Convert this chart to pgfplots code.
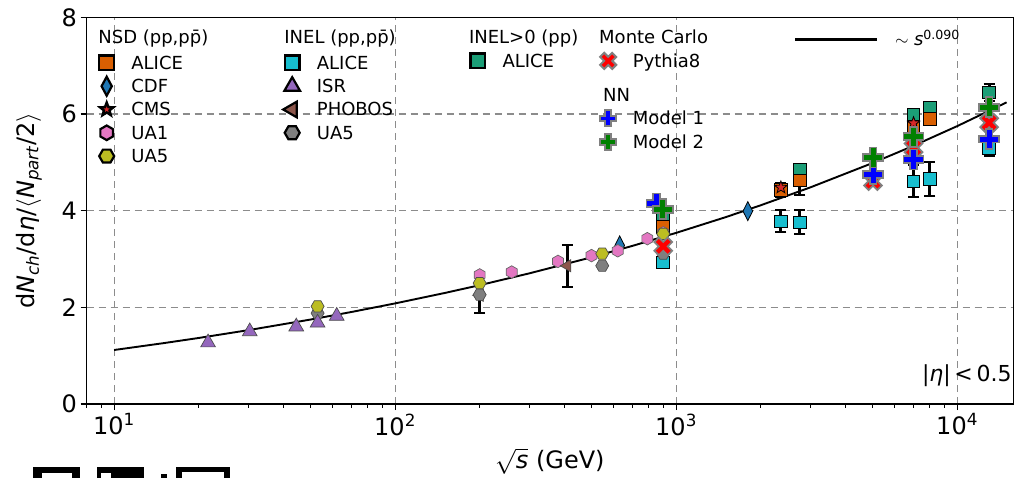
\documentclass[border=0pt]{standalone}
\usepackage{fontspec}
\setmainfont{DejaVu Sans}
\usepackage{pgfplots}
\pgfplotsset{compat=1.18}

\definecolor{cNSD}{HTML}{D95F02}
\definecolor{cINELg}{HTML}{1B9E77}
\definecolor{cINEL}{HTML}{17BECF}
\definecolor{cCDF}{HTML}{1F77B4}
\definecolor{cCMS}{HTML}{D62728}
\definecolor{cUAone}{HTML}{E377C2}
\definecolor{cUAfiveN}{HTML}{BCBD22}
\definecolor{cISR}{HTML}{9467BD}
\definecolor{cPHO}{HTML}{8C564B}
\definecolor{cUAfiveI}{HTML}{7F7F7F}
\definecolor{cEdge}{HTML}{808080}
\definecolor{cGrid}{HTML}{8C8C8C}
\definecolor{cMone}{HTML}{0000FF}
\definecolor{cMtwo}{HTML}{008000}
\definecolor{cPy}{HTML}{FF0000}

\pgfdeclareplotmark{hexv*}{%
  \pgfpathmoveto{\pgfpointpolar{90}{\pgfplotmarksize}}%
  \pgfpathlineto{\pgfpointpolar{150}{\pgfplotmarksize}}%
  \pgfpathlineto{\pgfpointpolar{210}{\pgfplotmarksize}}%
  \pgfpathlineto{\pgfpointpolar{270}{\pgfplotmarksize}}%
  \pgfpathlineto{\pgfpointpolar{330}{\pgfplotmarksize}}%
  \pgfpathlineto{\pgfpointpolar{30}{\pgfplotmarksize}}%
  \pgfpathclose\pgfusepathqfillstroke}
\pgfdeclareplotmark{hexh*}{%
  \pgfpathmoveto{\pgfpointpolar{0}{\pgfplotmarksize}}%
  \pgfpathlineto{\pgfpointpolar{60}{\pgfplotmarksize}}%
  \pgfpathlineto{\pgfpointpolar{120}{\pgfplotmarksize}}%
  \pgfpathlineto{\pgfpointpolar{180}{\pgfplotmarksize}}%
  \pgfpathlineto{\pgfpointpolar{240}{\pgfplotmarksize}}%
  \pgfpathlineto{\pgfpointpolar{300}{\pgfplotmarksize}}%
  \pgfpathclose\pgfusepathqfillstroke}
\pgfdeclareplotmark{star5*}{%
  \pgfpathmoveto{\pgfpointpolar{90}{\pgfplotmarksize}}%
  \pgfpathlineto{\pgfpointpolar{126}{0.42\pgfplotmarksize}}%
  \pgfpathlineto{\pgfpointpolar{162}{\pgfplotmarksize}}%
  \pgfpathlineto{\pgfpointpolar{198}{0.42\pgfplotmarksize}}%
  \pgfpathlineto{\pgfpointpolar{234}{\pgfplotmarksize}}%
  \pgfpathlineto{\pgfpointpolar{270}{0.42\pgfplotmarksize}}%
  \pgfpathlineto{\pgfpointpolar{306}{\pgfplotmarksize}}%
  \pgfpathlineto{\pgfpointpolar{342}{0.42\pgfplotmarksize}}%
  \pgfpathlineto{\pgfpointpolar{18}{\pgfplotmarksize}}%
  \pgfpathlineto{\pgfpointpolar{54}{0.42\pgfplotmarksize}}%
  \pgfpathclose\pgfusepathqfillstroke}
\pgfdeclareplotmark{fatplus}{%
  \pgfpathmoveto{\pgfqpoint{-.34\pgfplotmarksize}{\pgfplotmarksize}}%
  \pgfpathlineto{\pgfqpoint{.34\pgfplotmarksize}{\pgfplotmarksize}}%
  \pgfpathlineto{\pgfqpoint{.34\pgfplotmarksize}{.34\pgfplotmarksize}}%
  \pgfpathlineto{\pgfqpoint{\pgfplotmarksize}{.34\pgfplotmarksize}}%
  \pgfpathlineto{\pgfqpoint{\pgfplotmarksize}{-.34\pgfplotmarksize}}%
  \pgfpathlineto{\pgfqpoint{.34\pgfplotmarksize}{-.34\pgfplotmarksize}}%
  \pgfpathlineto{\pgfqpoint{.34\pgfplotmarksize}{-\pgfplotmarksize}}%
  \pgfpathlineto{\pgfqpoint{-.34\pgfplotmarksize}{-\pgfplotmarksize}}%
  \pgfpathlineto{\pgfqpoint{-.34\pgfplotmarksize}{-.34\pgfplotmarksize}}%
  \pgfpathlineto{\pgfqpoint{-\pgfplotmarksize}{-.34\pgfplotmarksize}}%
  \pgfpathlineto{\pgfqpoint{-\pgfplotmarksize}{.34\pgfplotmarksize}}%
  \pgfpathlineto{\pgfqpoint{-.34\pgfplotmarksize}{.34\pgfplotmarksize}}%
  \pgfpathclose\pgfusepathqfillstroke}
\pgfdeclareplotmark{fatx}{%
  \pgfpathmoveto{\pgfqpoint{-.9475\pgfplotmarksize}{.4667\pgfplotmarksize}}%
  \pgfpathlineto{\pgfqpoint{-.4667\pgfplotmarksize}{.9475\pgfplotmarksize}}%
  \pgfpathlineto{\pgfqpoint{0pt}{.4808\pgfplotmarksize}}%
  \pgfpathlineto{\pgfqpoint{.4667\pgfplotmarksize}{.9475\pgfplotmarksize}}%
  \pgfpathlineto{\pgfqpoint{.9475\pgfplotmarksize}{.4667\pgfplotmarksize}}%
  \pgfpathlineto{\pgfqpoint{.4808\pgfplotmarksize}{0pt}}%
  \pgfpathlineto{\pgfqpoint{.9475\pgfplotmarksize}{-.4667\pgfplotmarksize}}%
  \pgfpathlineto{\pgfqpoint{.4667\pgfplotmarksize}{-.9475\pgfplotmarksize}}%
  \pgfpathlineto{\pgfqpoint{0pt}{-.4808\pgfplotmarksize}}%
  \pgfpathlineto{\pgfqpoint{-.4667\pgfplotmarksize}{-.9475\pgfplotmarksize}}%
  \pgfpathlineto{\pgfqpoint{-.9475\pgfplotmarksize}{-.4667\pgfplotmarksize}}%
  \pgfpathlineto{\pgfqpoint{-.4808\pgfplotmarksize}{0pt}}%
  \pgfpathclose\pgfusepathqfillstroke}

\pgfplotsset{
  legax/.style={at={(0pt,0pt)}, anchor=south west, scale only axis,
    width=926.8pt, height=386.7pt, xmin=0, xmax=1, ymin=0, ymax=1, hide axis,
    legend cell align=left,
    legend style={draw=none, fill=none, inner sep=0pt, anchor=north west,
      font=\fontsize{18}{18}\selectfont,
      nodes={inner sep=0pt, text height=13pt, text depth=0pt, anchor=base west},
      row sep=3.3pt,
      /tikz/every odd column/.append style={column sep=14.7pt}},
    legend image code/.code={\path[draw=none, fill=none] (-10pt,-3.5pt) rectangle (10pt,16.5pt);
      \draw[##1,overlay] plot coordinates {(0pt,6.5pt)};}},
  ebar/.style={error bars/y dir=both, error bars/y explicit,
    error bars/error bar style={black, line width=3pt},
    error bars/error mark options={black, line width=2pt, mark size=5.5pt, rotate=90}}
}

\begin{document}
\begin{tikzpicture}
\useasboundingbox (-86.5pt,-73pt) rectangle (938.5pt,404pt);
\begin{axis}[
  at={(0pt,0pt)}, anchor=south west,
  scale only axis, width=926.8pt, height=386.7pt,
  xmode=log, log basis x=10,
  xmin=7.98, xmax=15850, ymin=0, ymax=8,
  axis line style={line width=1.3pt, black},
  xtick={10,100,1000,10000},
  xticklabels={10\textsuperscript{1},10\textsuperscript{2},10\textsuperscript{3},10\textsuperscript{4}},
  minor xtick={8,9,20,30,40,50,60,70,80,90,200,300,400,500,600,700,800,900,2000,3000,4000,5000,6000,7000,8000,9000},
  ytick={0,2,4,6,8},
  tick pos=left, tick align=outside,
  major tick length=6pt, minor tick length=3.5pt,
  every tick/.style={black, line width=1.1pt},
  xmajorgrids, ymajorgrids,
  major grid style={cGrid, line width=1.1pt, dash pattern=on 7pt off 5pt},
  tick label style={font=\fontsize{24}{24}\selectfont},
  /pgf/number format/assume math mode=true,
  xlabel={$\sqrt{\hbox{\textit{s}}}$ (GeV)},
  ylabel={d\textit{N}\textsubscript{\textit{ch}}/d\textit{η}/$\langle$\textit{N}\textsubscript{\textit{part}}/2$\rangle$},
  label style={font=\fontsize{24}{24}\selectfont},
  xlabel style={at={(axis description cs:0.5,-0.1474)}, anchor=center},
  ylabel style={at={(axis description cs:-0.0620,0.5)}, anchor=center},
  legend cell align=left,
  legend style={draw=none, fill=none, inner sep=0pt, at={(0.76316,0.96121)}, anchor=north west,
    font=\fontsize{18}{18}\selectfont,
    nodes={inner sep=0pt, text height=13pt, text depth=0pt, anchor=base west},
    /tikz/every odd column/.append style={column sep=17pt}},
  legend image code/.code={\draw[black, line width=2.2pt] (0pt,6pt) -- (82pt,6pt);},
]
% fit
\addplot[black, line width=1.9pt] coordinates {
 (10,1.117) (15,1.259) (20,1.366) (30,1.527) (50,1.747) (70,1.904) (100,2.081)
 (150,2.296) (200,2.458) (300,2.702) (500,3.035) (700,3.272) (1000,3.540)
 (1500,3.865) (2000,4.111) (3000,4.480) (5000,4.985) (7000,5.343) (10000,5.748) (15000,6.240)};
\addlegendentry{$\sim$\hspace{0.3em}\textit{s}\textsuperscript{0.090}}

% INEL ALICE
\addplot[forget plot, only marks, mark=square*, mark size=6.2pt, mark options={fill=cINEL, draw=black, line width=0.9pt}, ebar]
 coordinates {(2360,3.78) +- (0,0.23) (2760,3.76) +- (0,0.25) (7000,4.61) +- (0,0.33) (8000,4.66) +- (0,0.35) (13000,5.30) +- (0,0.16)};
\addplot[forget plot, only marks, mark=square*, mark size=6.2pt, mark options={fill=cINEL, draw=black, line width=0.9pt}]
 coordinates {(897,2.93)};
% INEL>0 ALICE
\addplot[forget plot, only marks, mark=square*, mark size=6.2pt, mark options={fill=cINELg, draw=black, line width=0.9pt}, ebar]
 coordinates {(13000,6.44) +- (0,0.18)};
\addplot[forget plot, only marks, mark=square*, mark size=6.2pt, mark options={fill=cINELg, draw=black, line width=0.9pt}]
 coordinates {(897,3.83) (2760,4.85) (7000,5.98) (8000,6.14)};
% NSD ALICE
\addplot[forget plot, only marks, mark=square*, mark size=6.2pt, mark options={fill=cNSD, draw=black, line width=0.9pt}, ebar]
 coordinates {(2360,4.43) +- (0,0.15) (2760,4.62) +- (0,0.30)};
\addplot[forget plot, only marks, mark=square*, mark size=6.2pt, mark options={fill=cNSD, draw=black, line width=0.9pt}]
 coordinates {(897,3.66) (7000,5.74) (8000,5.90)};
% CMS
\addplot[forget plot, only marks, mark=star5*, mark size=6.5pt, mark options={fill=cCMS, draw=black, line width=0.8pt}]
 coordinates {(900,3.48) (2360,4.48) (7000,5.81)};
% CDF
\addplot[forget plot, only marks, mark=diamond*, mark size=9.5pt, mark options={xscale=0.68, fill=cCDF, draw=black, line width=0.8pt}]
 coordinates {(630,3.28) (1800,3.99)};
% UA1
\addplot[forget plot, only marks, mark=hexv*, mark size=6.3pt, mark options={fill=cUAone, draw=black!60, line width=0.7pt}]
 coordinates {(200,2.67) (260,2.73) (380,2.95) (500,3.07) (620,3.17) (790,3.42) (900,3.54)};
% PHOBOS
\addplot[forget plot, only marks, mark=triangle*, mark size=7pt, mark options={rotate=90, fill=cPHO, draw=black!70, line width=0.7pt}, ebar]
 coordinates {(410,2.86) +- (0,0.43)};
\addplot[forget plot, only marks, mark=triangle*, mark size=7pt, mark options={rotate=90, fill=cPHO, draw=black!70, line width=0.7pt}]
 coordinates {(200,2.25)};
% UA5 INEL
\addplot[forget plot, only marks, mark=hexh*, mark size=6.5pt, mark options={fill=cUAfiveI, draw=black!70, line width=0.7pt}, ebar]
 coordinates {(200,2.26) +- (0,0.38)};
\addplot[forget plot, only marks, mark=hexh*, mark size=6.5pt, mark options={fill=cUAfiveI, draw=black!70, line width=0.7pt}]
 coordinates {(53,1.88) (546,2.86) (900,3.11)};
% UA5 NSD
\addplot[forget plot, only marks, mark=hexh*, mark size=6.5pt, mark options={fill=cUAfiveN, draw=black!70, line width=0.7pt}]
 coordinates {(53,2.02) (200,2.50) (546,3.11) (900,3.52)};
% ISR
\addplot[forget plot, only marks, mark=triangle*, mark size=8.5pt, mark options={fill=cISR, draw=black!70, line width=0.7pt}]
 coordinates {(21.6,1.27) (30.4,1.50) (44.5,1.60) (53,1.68) (62,1.82)};
% Pythia8
\addplot[forget plot, only marks, mark=fatx, mark size=9.4pt, mark options={fill=cPy, draw=cEdge, line width=1.8pt}]
 coordinates {(900,3.26) (5020,4.61) (7000,5.30) (13000,5.82)};
% NN Model 1
\addplot[forget plot, only marks, mark=fatplus, mark size=10pt, mark options={fill=cMone, draw=cEdge, line width=1.8pt}]
 coordinates {(852,4.15) (5020,4.75) (7000,5.06) (13000,5.48)};
% NN Model 2
\addplot[forget plot, only marks, mark=fatplus, mark size=10pt, mark options={fill=cMtwo, draw=cEdge, line width=1.8pt}]
 coordinates {(897,4.03) (5020,5.10) (7000,5.53) (13000,6.14)};

\node[anchor=base east, inner sep=0pt, font=\fontsize{22}{22}\selectfont] at (rel axis cs:0.9983,0.057) {|\textit{η}|\,<\,0.5};
\end{axis}

% NSD legend
\begin{axis}[legax, legend style={at={(0.01079,0.96509)}}]
\addplot[draw=none, mark=none, forget plot] coordinates {(0.5,0.5)};
\addlegendimage{empty legend}\addlegendentry[text depth=5.6pt]{\hspace*{-33pt}NSD (pp,pp̄)}
\addlegendimage{only marks, mark=square*, mark size=7.3pt, mark options={fill=cNSD, draw=black, line width=2.2pt}}\addlegendentry{ALICE}
\addlegendimage{only marks, mark=diamond*, mark size=9.5pt, mark options={xscale=0.72, fill=cCDF, draw=black, line width=2.2pt}}\addlegendentry{CDF}
\addlegendimage{only marks, mark=star5*, mark size=7pt, mark options={fill=cCMS, draw=black, line width=2.4pt}}\addlegendentry{CMS}
\addlegendimage{only marks, mark=hexv*, mark size=7.3pt, mark options={fill=cUAone, draw=black, line width=2.2pt}}\addlegendentry{UA1}
\addlegendimage{only marks, mark=hexh*, mark size=7.5pt, mark options={fill=cUAfiveN, draw=black, line width=2.2pt}}\addlegendentry{UA5}
\end{axis}

% INEL legend
\begin{axis}[legax, legend style={at={(0.21094,0.96509)}}]
\addplot[draw=none, mark=none, forget plot] coordinates {(0.5,0.5)};
\addlegendimage{empty legend}\addlegendentry[text depth=5.6pt]{\hspace*{-32.5pt}INEL (pp,pp̄)}
\addlegendimage{only marks, mark=square*, mark size=7.3pt, mark options={fill=cINEL, draw=black, line width=2.2pt}}\addlegendentry{ALICE}
\addlegendimage{only marks, mark=triangle*, mark size=9pt, mark options={fill=cISR, draw=black, line width=2.2pt}}\addlegendentry{ISR}
\addlegendimage{only marks, mark=triangle*, mark size=9pt, mark options={rotate=90, fill=cPHO, draw=black, line width=2.2pt}}\addlegendentry{PHOBOS}
\addlegendimage{only marks, mark=hexh*, mark size=7.5pt, mark options={fill=cUAfiveI, draw=black, line width=2.2pt}}\addlegendentry{UA5}
\end{axis}

% INEL>0 legend
\begin{axis}[legax, legend style={at={(0.41120,0.96509)}}]
\addplot[draw=none, mark=none, forget plot] coordinates {(0.5,0.5)};
\addlegendimage{empty legend}\addlegendentry[text depth=3.6pt]{\hspace*{-33.5pt}INEL>0 (pp)}
\addlegendimage{only marks, mark=square*, mark size=7.3pt, mark options={fill=cINELg, draw=black, line width=2.2pt}}\addlegendentry{ALICE}
\end{axis}

% Monte Carlo legend
\begin{axis}[legax, legend style={at={(0.55190,0.96509)}}]
\addplot[draw=none, mark=none, forget plot] coordinates {(0.5,0.5)};
\addlegendimage{empty legend}\addlegendentry[text depth=3.6pt]{\hspace*{-33.7pt}Monte Carlo}
\addlegendimage{only marks, mark=fatx, mark size=8.5pt, mark options={fill=cPy, draw=cEdge, line width=2pt}}\addlegendentry{Pythia8}
\end{axis}

% NN legend
\begin{axis}[legax, legend style={at={(0.55190,0.81588)}, row sep=3.4pt}]
\addplot[draw=none, mark=none, forget plot] coordinates {(0.5,0.5)};
\addlegendimage{empty legend}\addlegendentry[text depth=3.4pt]{\hspace*{-33.7pt}NN}
\addlegendimage{only marks, mark=fatplus, mark size=8pt, mark options={fill=cMone, draw=cEdge, line width=2pt}}\addlegendentry{Model 1}
\addlegendimage{only marks, mark=fatplus, mark size=8pt, mark options={fill=cMtwo, draw=cEdge, line width=2pt}}\addlegendentry{Model 2}
\end{axis}

% cropped shapes at the bottom edge
\fill[black] (-53.2pt,-62.7pt) rectangle (-6.5pt,-75pt);
\fill[white] (-44.8pt,-68.7pt) rectangle (-14.8pt,-75pt);
\fill[black] (10.2pt,-62.7pt) rectangle (57.5pt,-75pt);
\fill[white] (14pt,-69pt) rectangle (24pt,-75pt);
\fill[black] (74.2pt,-69.5pt) rectangle (80.2pt,-75pt);
\fill[black] (89.5pt,-62.7pt) rectangle (143.5pt,-75pt);
\fill[white] (95.2pt,-67.7pt) rectangle (137.5pt,-75pt);
\end{tikzpicture}
\end{document}
